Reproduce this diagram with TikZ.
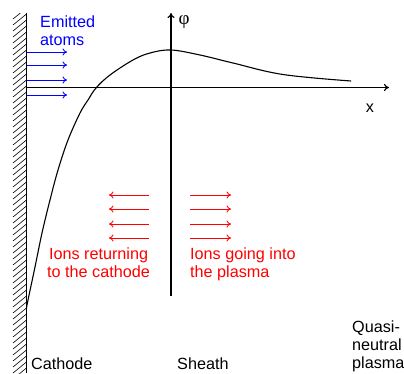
\documentclass[tikz,border=0pt]{standalone}
\usepackage{fontspec}
\setmainfont{Liberation Sans}
\newfontfamily\phifont{Liberation Serif}
\usetikzlibrary{arrows.meta}
\begin{document}
\begin{tikzpicture}[x=1pt,y=-1pt,
  axis/.style={line width=1.2pt,-{To[length=5pt,width=7pt]}},
  blarrow/.style={blue,line width=0.9pt,-{To[length=4.5pt,width=7pt]}},
  rdarrow/.style={red,line width=0.9pt,-{To[length=4.5pt,width=7pt]}},
  lbl/.style={font=\fontsize{16.2}{18}\selectfont,inner sep=0pt,align=left},
  curve/.style={line width=1.1pt}]
\useasboundingbox (0,0) rectangle (404,373);
% wall
\coordinate (wtop) at (26.5,13);
\coordinate (wbot) at (26.5,373);
\begin{scope}
\clip (12,13) rectangle (26.5,373);
\foreach \y in {13,19,...,390} \draw[line width=0.6pt] (13,\y) -- (26.5,\y-11);
\end{scope}
\draw[line width=1.2pt] (wtop) -- (wbot);
% axes
\coordinate (xa0) at (26.5,87.5);
\coordinate (xa1) at (389,87.5);
\coordinate (ya0) at (171,296);
\coordinate (ya1) at (171,13);
\draw[axis] (xa0) -- (xa1);
\draw[axis] (ya0) -- (ya1);
\node[inner sep=0pt,font=\phifont\fontsize{19}{18}\selectfont] (phi) at (184,22) {φ};
\node[lbl] (xl) at (370,108) {x};
% curve
\draw[curve] plot[smooth,tension=0.6] coordinates {(26.5,308) (28,300) (35,267) (42,233) (50,200) (58,170) (68,140) (80,113) (88,100) (96,88) (110,75) (133,60) (150,53) (171,50) (200,55) (233,63) (283,74.5) (351,81)};
% emitted atoms
\node[lbl,blue,anchor=base west] (em) at (40,45) {Emitted\\atoms};
\foreach \y [count=\i] in {52,65,80,95} {
  \coordinate (ba\i) at (26.5,\y);
  \coordinate (bb\i) at (67,\y);
  \draw[blarrow] (ba\i) -- (bb\i);
}
% ions
\foreach \y [count=\i] in {195,209,224,238} {
  \coordinate (la\i) at (149,\y);
  \coordinate (lb\i) at (109,\y);
  \coordinate (ra\i) at (190,\y);
  \coordinate (rb\i) at (231,\y);
  \draw[rdarrow] (la\i) -- (lb\i);
  \draw[rdarrow] (ra\i) -- (rb\i);
}
\node[lbl,red,anchor=base west,align=center] (ret) at (47,277) {Ions returning\\to the cathode};
\node[lbl,red,anchor=base west] (go) at (190,277) {Ions going into\\the plasma};
% bottom labels
\node[lbl,anchor=base west] (cath) at (31,369) {Cathode};
\node[lbl,anchor=base west] (sh) at (177,369) {Sheath};
\node[lbl,anchor=base west] (qn) at (352,368) {Quasi-\\neutral\\plasma};
\end{tikzpicture}
\end{document}
